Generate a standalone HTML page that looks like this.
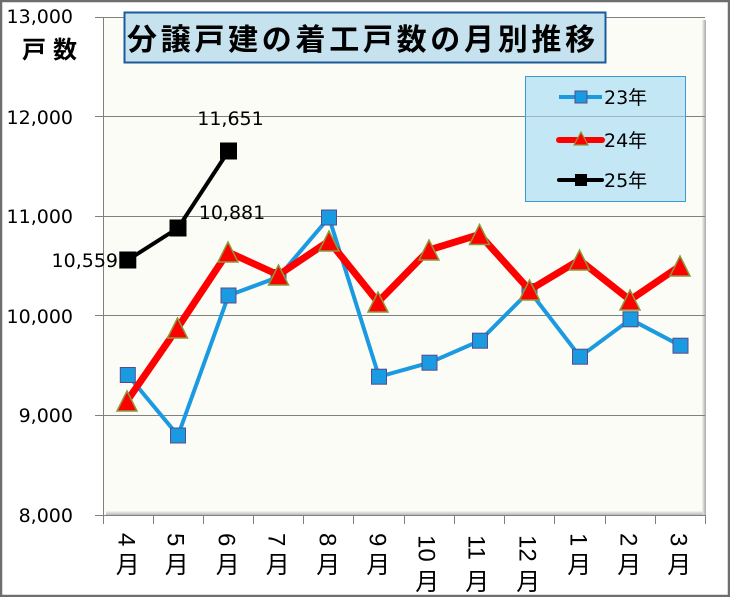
<!DOCTYPE html>
<html><head><meta charset="utf-8"><style>
html,body{margin:0;padding:0;background:#fff;}
svg{display:block;}
.n{font-family:"DejaVu Sans","Liberation Sans","Noto Sans CJK JP",sans-serif;font-size:19px;fill:#000;}
.lg{font-family:"DejaVu Sans","Liberation Sans","Noto Sans CJK JP",sans-serif;font-size:19px;fill:#000;}
.dg{font-family:"Liberation Sans","Noto Sans CJK JP",sans-serif;font-size:24px;fill:#000;}
.mo{font-family:"Noto Sans CJK JP","Liberation Sans",sans-serif;font-size:24px;fill:#000;}
</style></head><body>
<svg width="730" height="597" viewBox="0 0 730 597" xmlns="http://www.w3.org/2000/svg">
<defs>
<linearGradient id="sr" x1="0" x2="1" y1="0" y2="0"><stop offset="0" stop-color="#f4f4f2"/><stop offset="1" stop-color="#a8a8a8"/></linearGradient>
<linearGradient id="sb" x1="0" x2="0" y1="0" y2="1"><stop offset="0" stop-color="#f4f4f2"/><stop offset="1" stop-color="#b8b8b8"/></linearGradient>
</defs>
<rect x="0" y="0" width="730" height="597" fill="#fff"/>
<!-- plot area -->
<rect x="103" y="17" width="602" height="498" fill="#fcfcf6"/>
<rect x="702" y="20" width="4" height="495" fill="url(#sr)"/>
<rect x="106" y="511" width="597" height="4" fill="url(#sb)"/>
<!-- gridlines -->
<g stroke="#808080" stroke-width="1">
<line x1="95" y1="17.5" x2="705" y2="17.5"/>
<line x1="95" y1="116.5" x2="705" y2="116.5"/>
<line x1="95" y1="216.5" x2="705" y2="216.5"/>
<line x1="95" y1="315.5" x2="705" y2="315.5"/>
<line x1="95" y1="415.5" x2="705" y2="415.5"/>
<line x1="95" y1="515.5" x2="706" y2="515.5"/>
<line x1="103.5" y1="17" x2="103.5" y2="524"/>
<line x1="153.5" y1="515" x2="153.5" y2="524"/>
<line x1="203.5" y1="515" x2="203.5" y2="524"/>
<line x1="253.5" y1="515" x2="253.5" y2="524"/>
<line x1="303.5" y1="515" x2="303.5" y2="524"/>
<line x1="353.5" y1="515" x2="353.5" y2="524"/>
<line x1="404.5" y1="515" x2="404.5" y2="524"/>
<line x1="454.5" y1="515" x2="454.5" y2="524"/>
<line x1="504.5" y1="515" x2="504.5" y2="524"/>
<line x1="554.5" y1="515" x2="554.5" y2="524"/>
<line x1="605.5" y1="515" x2="605.5" y2="524"/>
<line x1="655.5" y1="515" x2="655.5" y2="524"/>
<line x1="705.5" y1="515" x2="705.5" y2="524"/>
</g>
<!-- y labels -->
<g class="n" text-anchor="end">
<text x="73" y="23">13,000</text>
<text x="73" y="124">12,000</text>
<text x="73" y="223">11,000</text>
<text x="73" y="323">10,000</text>
<text x="73" y="422">9,000</text>
<text x="73" y="522">8,000</text>
</g>
<text x="22" y="58" style="font-family:'Noto Sans CJK JP',sans-serif;font-size:24px;font-weight:bold;letter-spacing:7px" fill="#000">戸数</text>
<!-- title -->
<rect x="124.5" y="12.5" width="481" height="50" fill="#c6e2ee" stroke="#1d5a9a" stroke-width="2"/>
<text x="127" y="50" style="font-family:'Noto Sans CJK JP',sans-serif;font-size:30px;font-weight:bold;letter-spacing:3.7px" fill="#000">分譲戸建の着工戸数の月別推移</text>
<!-- legend -->
<rect x="525.5" y="76.5" width="160" height="125" fill="#c4e7f6" stroke="#3a9ad4" stroke-width="1"/>
<line x1="526" y1="116.5" x2="685" y2="116.5" stroke="#9ab4c0" stroke-width="1"/>
<line x1="559" y1="97" x2="602" y2="97" stroke="#1a9ae0" stroke-width="4"/>
<rect x="575" y="91" width="12" height="12" fill="#1a9ae0" stroke="#5a4a8a" stroke-width="1"/>
<line x1="559" y1="140" x2="602" y2="140" stroke="#ff0000" stroke-width="6" stroke-linecap="round"/>
<polygon points="581,132 588,145 574,145" fill="#ff0000" stroke="#8a9a3a" stroke-width="1.2"/>
<line x1="559" y1="180" x2="602" y2="180" stroke="#000" stroke-width="4" stroke-linecap="round"/>
<rect x="575" y="174" width="12" height="12" fill="#000"/>
<g class="lg">
<text x="604" y="104">23年</text>
<text x="604" y="147">24年</text>
<text x="604" y="187">25年</text>
</g>
<!-- series 23 -->
<polyline fill="none" stroke="#1a9ae0" stroke-width="4" stroke-linejoin="round" points="127.8,375 178,435.5 228.5,295.5 278.5,277 329,217.5 379,376.7 429.5,362.7 480,340.7 529.5,291 580,356.7 630.5,319.3 680.5,345.7"/>
<g fill="#1a9ae0" stroke="#5a4a8a" stroke-width="1">
<rect x="120.3" y="367.5" width="15" height="15"/>
<rect x="170.5" y="428" width="15" height="15"/>
<rect x="221" y="288" width="15" height="15"/>
<rect x="271" y="269.5" width="15" height="15"/>
<rect x="321.5" y="210" width="15" height="15"/>
<rect x="371.5" y="369.2" width="15" height="15"/>
<rect x="422" y="355.2" width="15" height="15"/>
<rect x="472.5" y="333.2" width="15" height="15"/>
<rect x="522" y="283.5" width="15" height="15"/>
<rect x="572.5" y="349.2" width="15" height="15"/>
<rect x="623" y="311.8" width="15" height="15"/>
<rect x="673" y="338.2" width="15" height="15"/>
</g>
<!-- series 24 -->
<polyline fill="none" stroke="#ff0000" stroke-width="7" stroke-linejoin="round" points="127,401 177.5,328 228,252 278.5,275 329,241 378,302 429,250 479.5,234.5 529.5,290 579.5,260 630,300 680,266"/>
<g fill="#ff0000" stroke="#8a9a3a" stroke-width="1.5">
<polygon points="127,391 137,411 117,411"/>
<polygon points="177.5,318 187.5,338 167.5,338"/>
<polygon points="228,242 238,262 218,262"/>
<polygon points="278.5,265 288.5,285 268.5,285"/>
<polygon points="329,231 339,251 319,251"/>
<polygon points="378,292 388,312 368,312"/>
<polygon points="429,240 439,260 419,260"/>
<polygon points="479.5,224.5 489.5,244.5 469.5,244.5"/>
<polygon points="529.5,280 539.5,300 519.5,300"/>
<polygon points="579.5,250 589.5,270 569.5,270"/>
<polygon points="630,290 640,310 620,310"/>
<polygon points="680,256 690,276 670,276"/>
</g>
<!-- series 25 -->
<polyline fill="none" stroke="#000" stroke-width="4" stroke-linejoin="round" points="127.8,260 178,228 228.5,151"/>
<g fill="#000">
<rect x="119.3" y="251.5" width="17" height="17"/>
<rect x="169.5" y="219.5" width="17" height="17"/>
<rect x="220" y="142.5" width="17" height="17"/>
</g>
<!-- data labels -->
<g class="n">
<text x="230.5" y="125" text-anchor="middle">11,651</text>
<text x="232" y="219" text-anchor="middle">10,881</text>
<text x="118" y="267" text-anchor="end">10,559</text>
</g>
<!-- x labels -->
<g class="dg">
<text transform="translate(118.7,533) rotate(90)">4</text>
<text transform="translate(167.7,533) rotate(90)">5</text>
<text transform="translate(218.7,533) rotate(90)">6</text>
<text transform="translate(268.7,533) rotate(90)">7</text>
<text transform="translate(319.3,533) rotate(90)">8</text>
<text transform="translate(369.3,533) rotate(90)">9</text>
<text transform="translate(418.3,535) rotate(90)">10</text>
<text transform="translate(468.3,535) rotate(90)">11</text>
<text transform="translate(519.3,535) rotate(90)">12</text>
<text transform="translate(570.3,533) rotate(90)">1</text>
<text transform="translate(620.3,533) rotate(90)">2</text>
<text transform="translate(670.3,533) rotate(90)">3</text>
</g>
<g class="mo" text-anchor="middle">
<text x="127.7" y="573">月</text>
<text x="176.7" y="573">月</text>
<text x="227.7" y="573">月</text>
<text x="277.7" y="573">月</text>
<text x="328.3" y="573">月</text>
<text x="378.3" y="573">月</text>
<text x="427.3" y="590">月</text>
<text x="477.3" y="590">月</text>
<text x="528.3" y="590">月</text>
<text x="579.3" y="573">月</text>
<text x="629.3" y="573">月</text>
<text x="679.3" y="573">月</text>
</g>
<!-- outer border -->
<rect x="1" y="1" width="728" height="595" fill="none" stroke="#6e6e6e" stroke-width="2.5"/>
</svg>
</body></html>
